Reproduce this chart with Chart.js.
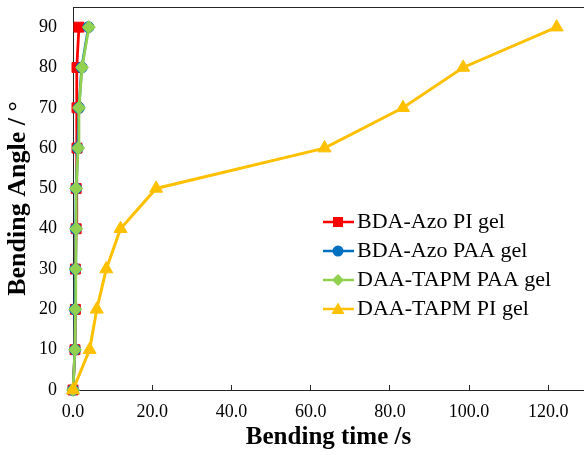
<!DOCTYPE html>
<html>
<head>
<meta charset="utf-8">
<script src="https://cdn.jsdelivr.net/npm/chart.js@4/dist/chart.umd.min.js"></script>
<style>
  html, body { margin: 0; padding: 0; background: #ffffff; }
  #wrap { width: 584px; height: 455px; position: relative; }
</style>
</head>
<body>
<div id="wrap"><canvas id="c" width="584" height="455"></canvas></div>
<script>
// ---- data ----
const seriesNames = ["BDA-Azo PI gel", "BDA-Azo PAA gel", "DAA-TAPM PAA gel", "DAA-TAPM PI gel"];
const bendingAngle = [0, 10, 20, 30, 40, 50, 60, 70, 80, 90];
const timeBdaAzoPI = [0, 0.5, 0.6, 0.6, 0.8, 0.8, 1.0, 1.0, 1.0, 1.5];
const timeBdaAzoPAA = [0, 0.5, 0.5, 0.6, 0.7, 0.8, 1.2, 1.5, 2.2, 3.9];
const timeDaaTapmPAA = [0, 0.5, 0.6, 0.7, 0.8, 0.8, 1.3, 1.5, 2.3, 4.0];
const timeDaaTapmPI = [0, 4.2, 6.0, 8.4, 12.0, 21.0, 63.5, 83.3, 98.5, 122.1];
const xTickStep = 20;
const yTickStep = 10;

const colors = ["#FF0000", "#0070C0", "#92D050", "#FFC000"];
const styles = ["rect", "circle", "rectRot", "triangle"];
const radii = [7, 5.5, 6.5, 7.5];

function pts(times) { return times.map((t, i) => ({ x: t, y: bendingAngle[i] })); }

// legend icons: short line with marker in the middle
function makeIcon(color, style) {
  const c = document.createElement('canvas');
  c.width = 32; c.height = 16;
  const g = c.getContext('2d');
  g.strokeStyle = color; g.lineWidth = 2.5;
  g.beginPath(); g.moveTo(0, 8); g.lineTo(32, 8); g.stroke();
  g.fillStyle = color;
  g.beginPath();
  if (style === 'rect') { g.rect(11, 3, 10, 10); }
  else if (style === 'circle') { g.arc(16, 8, 5.5, 0, Math.PI * 2); }
  else if (style === 'rectRot') { g.moveTo(16, 2); g.lineTo(22, 8); g.lineTo(16, 14); g.lineTo(10, 8); g.closePath(); }
  else { g.moveTo(16, 1.5); g.lineTo(22.5, 13); g.lineTo(9.5, 13); g.closePath(); }
  g.fill();
  return c;
}
const legendIcons = colors.map((c, i) => makeIcon(c, styles[i]));

const allTimes = [timeBdaAzoPI, timeBdaAzoPAA, timeDaaTapmPAA, timeDaaTapmPI];
const datasets = allTimes.map((t, i) => ({
  label: seriesNames[i],
  data: pts(t),
  borderColor: colors[i],
  backgroundColor: colors[i],
  borderWidth: i === 3 ? 3 : 2.75,
  pointStyle: styles[i],
  pointRadius: radii[i],
  pointBorderWidth: 1,
  pointBorderColor: colors[i],
  pointBackgroundColor: colors[i],
  tension: 0,
  clip: false,
  order: 4 - i
}));

Chart.defaults.font.family = "'Liberation Serif', 'Times New Roman', serif";
Chart.defaults.color = '#000000';

const legendInside = {
  id: 'legendInside',
  beforeLayout(chart) {
    const lg = chart.legend;
    if (lg && !lg._insidePatched) {
      lg._insidePatched = true;
      const fit = lg.fit;
      lg.fit = function () {
        fit.call(this);
        this._w = this.width; this._h = this.height;
        this.width = 0;
      };
    }
  },
  afterLayout(chart) {
    const lg = chart.legend;
    if (!lg) return;
    const p = lg.options.labels.padding;
    lg.left = 330 - p;
    lg.top = 211 - p;
    lg.width = lg._w + 20;
    lg.height = lg._h + 10;
    lg.right = lg.left + lg.width;
    lg.bottom = lg.top + lg.height;
  }
};

new Chart(document.getElementById('c'), {
  type: 'line',
  data: { datasets },
  plugins: [legendInside],
  options: {
    responsive: false,
    animation: false,
    layout: { padding: 0, autoPadding: false },
    plugins: {
      tooltip: { enabled: false },
      legend: {
        position: 'right',
        align: 'start',
        maxWidth: 400,
        labels: {
          usePointStyle: true,
          pointStyleWidth: 16,
          boxHeight: 16,
          padding: 7,
          color: '#000000',
          font: { size: 22 },
          generateLabels(chart) {
            return Chart.defaults.plugins.legend.labels.generateLabels(chart)
              .map(l => Object.assign(l, { pointStyle: legendIcons[l.datasetIndex] }));
          },
          sort: (a, b) => a.datasetIndex - b.datasetIndex
        }
      }
    },
    scales: {
      x: {
        type: 'linear',
        position: 'bottom',
        min: 0,
        max: 129,
        afterFit(s) { s.height = 65; s.paddingLeft = 0; s.paddingRight = 0; },
        ticks: {
          stepSize: xTickStep,
          includeBounds: false,
          padding: 16,
          font: { size: 18 },
          color: '#000000',
          callback: v => Number(v).toFixed(1),
          maxRotation: 0
        },
        grid: { drawOnChartArea: false, drawTicks: true, tickLength: -5, color: '#262626' },
        border: { color: '#262626', width: 1 },
        title: {
          display: true,
          text: 'Bending time /s',
          font: { size: 25, weight: 'bold' },
          color: '#000000',
          padding: { top: 0, bottom: 2 }
        }
      },
      xTop: {
        type: 'linear',
        position: 'top',
        min: 0,
        max: 129,
        afterFit(s) { s.height = 7; s.paddingLeft = 0; s.paddingRight = 0; },
        ticks: { display: false },
        grid: { drawOnChartArea: false, drawTicks: false },
        border: { color: '#262626', width: 1 }
      },
      y: {
        type: 'linear',
        position: 'left',
        min: 0,
        max: 95,
        afterFit(s) { s.width = 73; s.paddingTop = 0; s.paddingBottom = 0; },
        ticks: {
          stepSize: yTickStep,
          includeBounds: false,
          padding: 21,
          font: { size: 18 },
          color: '#000000'
        },
        grid: { drawOnChartArea: false, drawTicks: true, tickLength: -5, color: '#262626' },
        border: { color: '#262626', width: 1 },
        title: {
          display: true,
          text: 'Bending Angle / °',
          font: { size: 26, weight: 'bold' },
          color: '#000000',
          padding: { top: 3, bottom: 0 }
        }
      }
    }
  }
});
</script>
</body>
</html>
